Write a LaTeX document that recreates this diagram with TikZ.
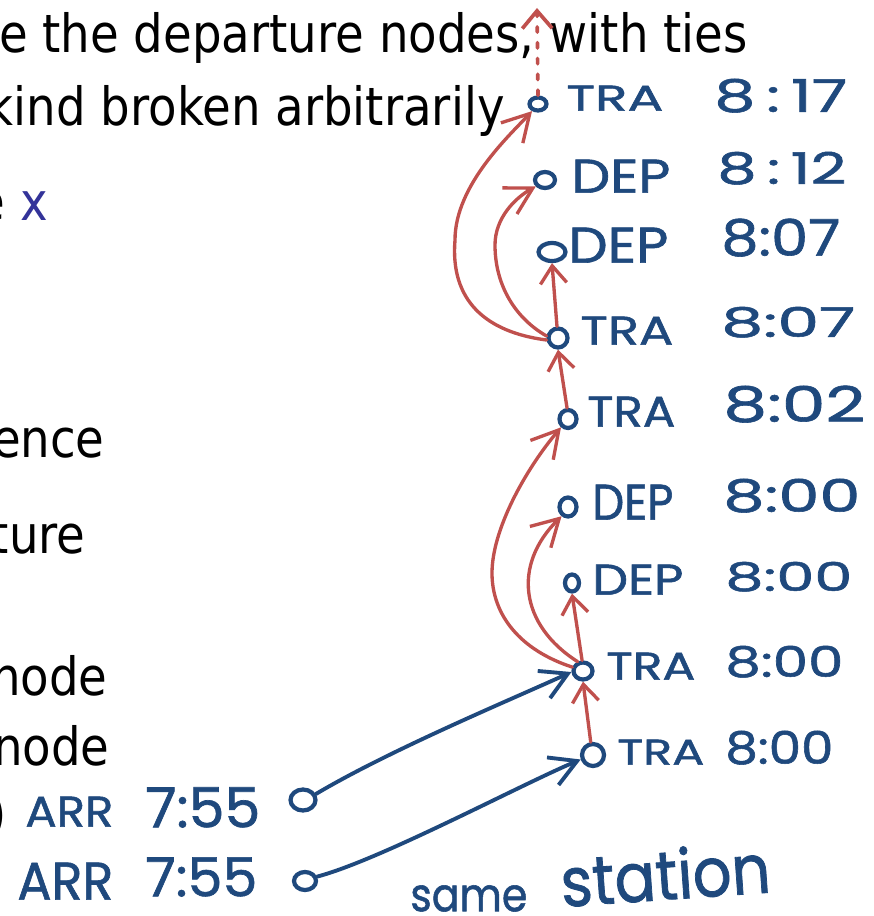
\documentclass[tikz,border=0pt]{standalone}
\usepackage{fontspec}
\setmainfont{DejaVu Sans}
\newfontfamily\hwfont{Poppins}[FakeBold=1.2]
\usepackage{graphicx}
\usetikzlibrary{arrows.meta,shapes.geometric}
\definecolor{hwblue}{RGB}{31,73,125}
\definecolor{hwred}{RGB}{192,80,77}
\definecolor{xblue}{RGB}{51,51,153}
\newlength\pxu \setlength\pxu{0.02cm}
\newcommand\tah[1]{\scalebox{0.885}[1]{#1}}
\newcommand\hwt[3]{\resizebox{#1\pxu}{#2\pxu}{\hwfont #3}}
\begin{document}
\begin{tikzpicture}[x=0.02cm,y=-0.02cm,
  txt/.style={inner sep=0pt,anchor=base east,text=black,font=\fontsize{30}{36}\selectfont},
  hw/.style={inner sep=0pt,anchor=south west,text=hwblue},
  dot/.style={ellipse,draw=hwblue,line width=2.4pt,inner sep=0pt},
  bigtip/.style={-{Straight Barb[length=15pt,width=17pt]}},
  smalltip/.style={-{Straight Barb[length=10pt,width=15pt]}},
  redpen/.style={draw=hwred,line width=1.9pt,line cap=round,line join=round},
  bluepen/.style={draw=hwblue,line width=2.2pt,line cap=round,line join=round},
]
\useasboundingbox (0,0) rectangle (874,916);
\fill[white] (0,0) rectangle (874,916);
\clip (0,0) rectangle (874,916);

% slide text (cut at the left edge)
\node[txt] (l1) at (748,52) {\tah{e the departure nodes, with ties}};
\node[txt] (l2) at (505,125) {\tah{kind broken arbitrarily}};
\node[txt] (l3) at (48,220) {\tah{e \textcolor{xblue}{x}}};
\node[txt] (l4) at (105,457) {\tah{ence}};
\node[txt] (l5) at (86,553) {\tah{ture}};
\node[txt] (l6) at (108,695) {\tah{node}};
\node[txt] (l7) at (110,765) {\tah{node}};
\node[txt] (l8) at (7,832) {\tah{)}};

% event nodes
\node[dot,minimum width=17\pxu,minimum height=13\pxu] (t1) at (538,104) {};
\node[dot,minimum width=20\pxu,minimum height=16\pxu] (t2) at (545,180) {};
\node[dot,minimum width=27\pxu,minimum height=18\pxu] (t3) at (552,252) {};
\node[dot,minimum width=19\pxu,minimum height=19\pxu] (t4) at (558,338) {};
\node[dot,minimum width=17\pxu,minimum height=18\pxu] (t5) at (568,419) {};
\node[dot,minimum width=17\pxu,minimum height=19\pxu] (t6) at (568,507) {};
\node[dot,minimum width=14\pxu,minimum height=17\pxu] (t7) at (572,583) {};
\node[dot,minimum width=19\pxu,minimum height=17\pxu] (t8) at (583,671) {};
\node[dot,minimum width=22\pxu,minimum height=22\pxu] (t9) at (593,755) {};
\node[dot,minimum width=25\pxu,minimum height=21\pxu] (ta) at (303,800) {};
\node[dot,minimum width=22\pxu,minimum height=18\pxu] (tb) at (305,881) {};

% handwritten labels
\node[hw] (k1) at (566,111) {\hwt{97}{25}{TRA}};
\node[hw] (h1) at (714,113) {\hwt{133}{33}{8\,:\,17}};
\node[hw] (k2) at (571,193) {\hwt{99}{33}{DEP}};
\node[hw] (h2) at (717,185) {\hwt{129}{32}{8\,:\,12}};
\node[hw] (k3) at (568,263) {\hwt{100}{35}{DEP}};
\node[hw] (h3) at (721,257) {\hwt{119}{37}{8:07}};
\node[hw] (k4) at (580,345) {\hwt{93}{28}{TRA}};
\node[hw] (h4) at (721,338) {\hwt{134}{30}{8:07}};
\node[hw] (k5) at (587,427) {\hwt{88}{30}{TRA}};
\node[hw] (h5) at (723,423) {\hwt{142}{36}{8:02}};
\node[hw] (k6) at (592,520) {\hwt{81}{35}{DEP}};
\node[hw] (h6) at (723,513) {\hwt{137}{33}{8:00}};
\node[hw] (k7) at (592,595) {\hwt{91}{30}{DEP}};
\node[hw] (h7) at (725,592) {\hwt{127}{29}{8:00}};
\node[hw] (k8) at (606,680) {\hwt{89}{27}{TRA}};
\node[hw] (h8) at (725,678) {\hwt{118}{31}{8:00}};
\node[hw] (k9) at (617,765) {\hwt{87}{25}{TRA}};
\node[hw] (h9) at (725,765) {\hwt{108}{33}{8:00}};
\node[hw] (ka) at (25,827) {\hwt{88}{30}{ARR}};
\node[hw] (ha) at (145,828) {\hwt{115}{40}{7:55}};
\node[hw] (kb) at (17,900) {\hwt{96}{37}{ARR}};
\node[hw] (hb) at (145,897) {\hwt{112}{39}{7:55}};
\node[hw] (s1) at (410,912) {\hwt{117}{26}{same}};
\node[hw,rotate=4] (s2) at (562,908) {\hwt{210}{52}{station}};

% red connectors
\draw[redpen,smalltip] (t9.100) -- (t8.south);
\draw[redpen,smalltip] (t8.95) -- (t7.south);
\draw[redpen,bigtip] (t8.120) .. controls (520,625) and (512,565) .. (t6.235);
\draw[redpen,bigtip] (t8.160) .. controls (520,650) and (492,615) .. (492,573)
      .. controls (492,530) and (525,470) .. (t5.230);
\draw[redpen,smalltip] (t5.95) -- (t4.south);
\draw[redpen,smalltip] (t4.95) -- (t3.south);
\draw[redpen,bigtip] (t4.170) .. controls (515,318) and (495,285) .. (495,245)
      .. controls (495,218) and (515,198) .. (t2.215);
\draw[redpen,bigtip] (t4.190) .. controls (485,332) and (450,300) .. (455,240)
      .. controls (455,185) and (510,135) .. (t1.230);
\coordinate (up) at (537,8);
\draw[redpen,line width=2.1pt,dash pattern=on 3pt off 6pt,-{Straight Barb[length=10pt,width=17pt]}] (t1.north) -- (up);

% blue connectors
\draw[bluepen,bigtip] (ta.25) .. controls (390,750) and (510,700) .. (t8.185);
\draw[bluepen,bigtip] (tb.20) .. controls (380,860) and (520,785) .. (t9.200);
\end{tikzpicture}
\end{document}
